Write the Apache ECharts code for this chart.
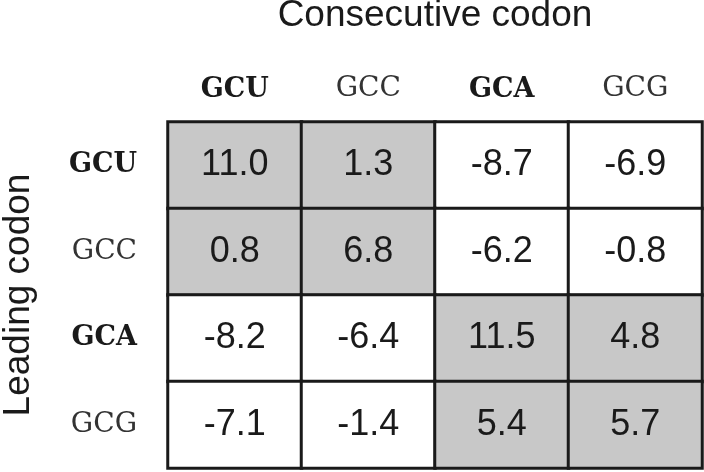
<!DOCTYPE html>
<html>
<head>
<meta charset="utf-8">
<script src="https://cdn.jsdelivr.net/npm/echarts@6/dist/echarts.min.js"></script>
<style>
  html, body { margin: 0; padding: 0; background: #fff; }
  #chart { width: 704px; height: 472px; }
</style>
</head>
<body>
<div id="chart"></div>
<script>
// codons along each axis
const consecutiveCodons = ['GCU', 'GCC', 'GCA', 'GCG']
const leadingCodons = ['GCU', 'GCC', 'GCA', 'GCG']
// codons printed in bold
const boldCodons = ['GCU', 'GCA']

// one row per leading codon, columns = consecutive codon
const rowGCU = [11.0, 1.3, -8.7, -6.9]
const rowGCC = [0.8, 6.8, -6.2, -0.8]
const rowGCA = [-8.2, -6.4, 11.5, 4.8]
const rowGCG = [-7.1, -1.4, 5.4, 5.7]
const rows = [rowGCU, rowGCC, rowGCA, rowGCG]

const cells = []
rows.forEach((row, r) => {
  row.forEach((v, c) => cells.push([c, r, v]))
})

const codonLabel = {
  formatter: (v) => boldCodons.includes(v) ? '{b|' + v + '}' : '{n|' + v + '}',
  rich: {
    b: { fontFamily: 'DejaVu Serif', fontWeight: 'bold', fontSize: 27, color: '#1a1a1a' },
    n: { fontFamily: 'DejaVu Serif', fontWeight: 'normal', fontSize: 28, color: '#333' }
  }
}

const chart = echarts.init(document.getElementById('chart'))
chart.setOption({
  animation: false,
  grid: { left: 168, top: 122, width: 534, height: 346, outerBoundsMode: 'none', containLabel: false },
  xAxis: {
    type: 'category',
    position: 'top',
    data: consecutiveCodons,
    name: 'Consecutive codon',
    nameLocation: 'middle',
    nameGap: 88,
    nameTextStyle: { fontFamily: 'Liberation Sans', fontSize: 37, color: '#1a1a1a' },
    axisLine: { show: false },
    axisTick: { show: false },
    splitLine: { show: false },
    axisLabel: Object.assign({ margin: 19 }, codonLabel)
  },
  yAxis: {
    type: 'category',
    inverse: true,
    data: leadingCodons,
    name: 'Leading codon',
    nameLocation: 'middle',
    nameGap: 131,
    nameTextStyle: { fontFamily: 'Liberation Sans', fontSize: 37, color: '#1a1a1a' },
    axisLine: { show: false },
    axisTick: { show: false },
    splitLine: { show: false },
    axisLabel: Object.assign({ margin: 31 }, codonLabel)
  },
  visualMap: {
    show: false,
    type: 'piecewise',
    dimension: 2,
    pieces: [
      { lt: 0, color: '#ffffff' },
      { gte: 0, color: '#c8c8c8' }
    ]
  },
  series: [{
    type: 'heatmap',
    data: cells,
    itemStyle: { borderColor: '#1a1a1a', borderWidth: 3 },
    label: {
      show: true,
      formatter: (p) => p.value[2].toFixed(1),
      fontFamily: 'Liberation Sans',
      fontSize: 36,
      color: '#1a1a1a'
    },
    emphasis: { disabled: true }
  }]
})
</script>
</body>
</html>
